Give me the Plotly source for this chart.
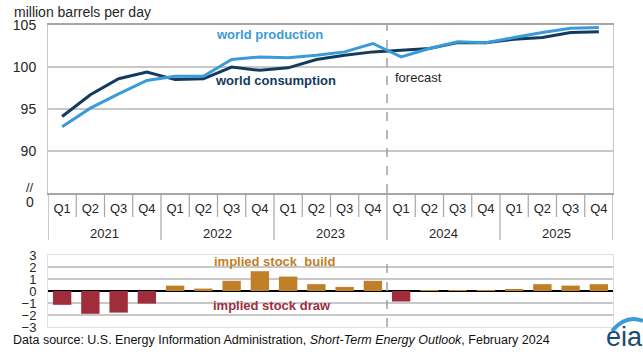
import plotly.graph_objects as go

# ---------------- data ----------------
years = ["2021"] * 4 + ["2022"] * 4 + ["2023"] * 4 + ["2024"] * 4 + ["2025"] * 4
quarters = ["Q1", "Q2", "Q3", "Q4"] * 5
production = [92.9, 95.1, 96.8, 98.4, 98.9, 98.9, 100.9, 101.2, 101.1, 101.4,
              101.8, 102.8, 101.2, 102.2, 103.0, 102.9, 103.5, 104.1, 104.6, 104.7]
consumption = [94.1, 96.7, 98.6, 99.4, 98.5, 98.6, 100.0, 99.6, 99.9, 100.9,
               101.4, 101.8, 102.0, 102.2, 102.9, 102.9, 103.3, 103.5, 104.1, 104.2]
stock_change = [-1.15, -1.9, -1.8, -1.05, 0.45, 0.2, 0.85, 1.65, 1.2, 0.57,
                0.34, 0.85, -0.88, 0.06, 0.06, 0.02, 0.14, 0.57, 0.45, 0.57]
top_ticks = [90, 95, 100, 105]
bottom_ticks = [-3, -2, -1, 0, 1, 2, 3]
forecast_year = "2024"

# ---------------- styles ----------------
W, H = 643, 354
ML, MR, MT, MB = 48, 30, 25, 27
PW, PH = W - ML - MR, H - MT - MB
FONT = "Liberation Sans, Arial, sans-serif"
PROD_C = "#3A9BDA"
CONS_C = "#133B5E"
BUILD_C = "#BF8028"
DRAW_C = "#A02D3C"
GRID_C = "#C8C8C8"
SEP_C = "#A6A6A6"
TXT_C = "#262626"


def X(px):
    return (px - ML) / PW


def Y(py):
    return (H - MB - py) / PH


top_bottom = Y(193)
bot_top = Y(255)

n = len(quarters)
pos = list(range(n))  # category positions on the shared x scale

fig = go.Figure()
fig.add_trace(go.Scatter(x=pos, y=consumption, mode="lines", name="world consumption",
                         line=dict(color=CONS_C, width=3), xaxis="x", yaxis="y"))
fig.add_trace(go.Scatter(x=pos, y=production, mode="lines", name="world production",
                         line=dict(color=PROD_C, width=3), xaxis="x", yaxis="y"))
fig.add_trace(go.Bar(x=pos, y=stock_change, width=0.65,
                     marker=dict(color=[BUILD_C if v >= 0 else DRAW_C for v in stock_change],
                                 line=dict(width=0)),
                     xaxis="x2", yaxis="y2"))

fc_idx = years.index(forecast_year) - 0.5

shapes = []
annotations = []
# quarter separators and year dividers under the axis
for i in range(-1, n):
    b = i + 0.5
    is_year_edge = i < 0 or i == n - 1 or years[i] != years[i + 1]
    shapes.append(dict(type="line", xref="x", yref="paper", x0=b, x1=b,
                       y0=top_bottom, y1=Y(240) if is_year_edge else Y(217),
                       line=dict(color=SEP_C, width=1.2)))
# year labels
for yr in dict.fromkeys(years):
    idx = [i for i, v in enumerate(years) if v == yr]
    annotations.append(dict(text=yr, xref="x", yref="paper", x=sum(idx) / len(idx), y=Y(233),
                            xanchor="center", yanchor="middle", showarrow=False,
                            font=dict(size=13, color=TXT_C)))
# forecast dashed lines
shapes.append(dict(type="line", xref="x", yref="y", x0=fc_idx, x1=fc_idx, y0=85, y1=105,
                   line=dict(color="#A0A0A0", width=1.5, dash="dash")))
shapes.append(dict(type="line", xref="x2", yref="y2", x0=fc_idx, x1=fc_idx, y0=-3, y1=3,
                   line=dict(color="#A0A0A0", width=1.5, dash="dash")))
# eia logo arc
shapes.append(dict(type="path", xref="paper", yref="paper",
                   path=f"M {X(612)},{Y(331)} Q {X(626)},{Y(314)} {X(643)},{Y(321)}",
                   line=dict(color=PROD_C, width=4)))

texts = [
    dict(text="million barrels per day", x=X(12), y=Y(12), xanchor="left",
         font=dict(size=14, color=TXT_C)),
    dict(text="//", x=X(30), y=Y(187), xanchor="center",
         font=dict(size=13, color=TXT_C)),
    dict(text="0", x=X(30), y=Y(202), xanchor="center",
         font=dict(size=14, color=TXT_C)),
    dict(text="<b>world production</b>", x=X(269), y=Y(35), xanchor="center",
         font=dict(size=13, color=PROD_C)),
    dict(text="<b>world consumption</b>", x=X(275), y=Y(81), xanchor="center",
         font=dict(size=13, color=CONS_C)),
    dict(text="forecast", x=X(393), y=Y(77), xanchor="left",
         font=dict(size=13, color=TXT_C)),
    dict(text="<b>implied stock  build</b>", x=X(274), y=Y(261), xanchor="center",
         font=dict(size=13, color=BUILD_C)),
    dict(text="<b>implied stock draw</b>", x=X(272), y=Y(305), xanchor="center",
         font=dict(size=13, color=DRAW_C)),
    dict(text="Data source: U.S. Energy Information Administration, <i>Short-Term Energy Outlook</i>, February 2024",
         x=X(11), y=Y(340), xanchor="left", font=dict(size=12.5, color="#111111")),
    dict(text="eia", x=X(624), y=Y(337), xanchor="center",
         font=dict(size=27, color="#1B4A72")),
]
for a in texts:
    a.update(xref="paper", yref="paper", showarrow=False, yanchor="middle")
annotations.extend(texts)

fig.update_layout(
    width=W, height=H,
    margin=dict(l=ML, r=MR, t=MT, b=MB, pad=0),
    paper_bgcolor="white", plot_bgcolor="white",
    font=dict(family=FONT, color=TXT_C),
    showlegend=False,
    shapes=shapes,
    annotations=annotations,
    xaxis=dict(domain=[0, 1], anchor="y", range=[-0.5, n - 0.5],
               tickvals=pos, ticktext=quarters, ticklabelstandoff=3,
               showline=True, linecolor=SEP_C, linewidth=1.5, mirror=True,
               showgrid=False, zeroline=False, ticks="", tickfont=dict(size=13, color=TXT_C)),
    yaxis=dict(domain=[top_bottom, 1], anchor="x", range=[85, 105],
               tickvals=top_ticks, showgrid=True, gridcolor=GRID_C, gridwidth=1.5,
               showline=True, linecolor=GRID_C, mirror=True, zeroline=False,
               ticks="", ticklabelstandoff=8, tickfont=dict(size=14, color=TXT_C)),
    xaxis2=dict(domain=[0, 1], anchor="y2", matches="x", range=[-0.5, n - 0.5],
                showticklabels=False, ticks="", zeroline=False,
                showline=True, linecolor="#E0E0E0", mirror=True, showgrid=False),
    yaxis2=dict(domain=[0, bot_top], anchor="x2", range=[-3, 3],
                tickvals=bottom_ticks, showgrid=True, gridcolor=GRID_C, gridwidth=1.5,
                zeroline=True, zerolinecolor="black", zerolinewidth=2,
                showline=True, linecolor="#E0E0E0", mirror=True,
                ticks="", ticklabelstandoff=8, tickfont=dict(size=13, color=TXT_C)),
)

fig.write_html("out.html")
